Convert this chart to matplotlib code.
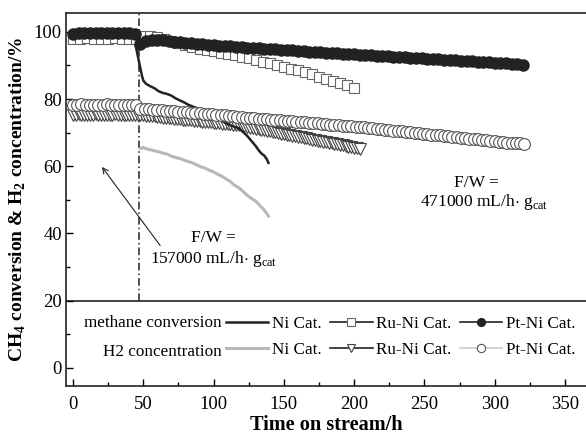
import numpy as np
import matplotlib
matplotlib.use("Agg")
from matplotlib import pyplot as plt

plt.rcParams["font.family"] = "Liberation Serif"
plt.rcParams["mathtext.fontset"] = "custom"
plt.rcParams["mathtext.rm"] = "Liberation Serif"
plt.rcParams["mathtext.bf"] = "Liberation Serif:bold"

SWITCH_T = 47   # F/W raised from 157000 to 471000 mL/h g_cat here

# methane conversion, Pt-Ni (sampled every 4 h)
pt_ch4_before = [99.4, 99.5, 99.5, 99.6, 99.5, 99.5, 99.6, 99.5, 99.5, 99.6, 99.5, 99.4]
pt_ch4_after = [96.5, 97.2, 97.5, 97.6, 97.5, 97.3, 97.1, 97.0, 96.8, 96.7, 96.5, 96.4,
                96.2, 96.1, 95.9, 95.8, 95.7, 95.5, 95.5, 95.3, 95.2, 95.1, 95.0, 94.9,
                94.8, 94.7, 94.6, 94.5, 94.3, 94.2, 94.1, 94.0, 93.9, 93.8, 93.7, 93.6,
                93.5, 93.4, 93.3, 93.2, 93.1, 93.0, 92.9, 92.8, 92.7, 92.6, 92.5, 92.4,
                92.3, 92.2, 92.1, 92.0, 91.9, 91.8, 91.7, 91.6, 91.5, 91.4, 91.3, 91.2,
                91.1, 91.0, 90.9, 90.8, 90.7, 90.6, 90.5, 90.4, 90.2]

# methane conversion, Ru-Ni (every 5 h)
ru_ch4_before = [98.0, 98.0, 98.1, 98.0, 98.0, 98.0, 98.1, 98.0, 98.0, 98.0]
ru_ch4_after = [98.9, 98.8, 98.5, 98.0, 97.3, 96.6, 96.0, 95.5, 95.0, 94.6, 94.2, 93.8,
                93.4, 93.0, 92.6, 92.1, 91.6, 91.1, 90.6, 90.1, 89.6, 89.0, 88.5, 87.9,
                87.3, 86.7, 86.1, 85.5, 84.9, 84.2, 83.2]

# methane conversion, Ni (line only)
ni_ch4_t = [0, 5, 10, 15, 20, 25, 30, 35, 40, 43, 45, 47, 49, 50, 52, 55, 58, 61, 64, 67,
            70, 73, 76, 79, 82, 85, 88, 91, 94, 97, 100, 103, 106, 109, 112, 115, 118,
            121, 124, 127, 130, 132, 134, 136, 138, 139]
ni_ch4 = [99.2, 99.2, 99.3, 99.2, 99.2, 99.3, 99.2, 99.2, 99.2, 98.5, 95.0, 91.0, 87.0,
          85.5, 84.5, 83.8, 83.2, 82.3, 81.8, 81.5, 81.0, 80.2, 79.6, 79.0, 78.3, 77.8,
          77.3, 76.5, 76.0, 75.3, 74.8, 74.2, 73.5, 72.8, 72.2, 71.7, 71.3, 70.2, 69.0,
          67.5, 66.0, 64.8, 63.8, 63.2, 62.0, 61.0]

# H2 concentration, Pt-Ni (every 3 h)
pt_h2_before = [78.3, 78.3, 78.4, 78.3, 78.3, 78.2, 78.3, 78.3, 78.4, 78.3, 78.3, 78.3,
                78.2, 78.3, 78.3, 78.3]
pt_h2_after = [77.0, 77.0, 76.9, 76.8, 76.7, 76.6, 76.5, 76.4, 76.3, 76.2, 76.1, 76.0,
               75.9, 75.8, 75.7, 75.6, 75.5, 75.4, 75.3, 75.2, 75.1, 75.0, 74.9, 74.7,
               74.6, 74.5, 74.4, 74.3, 74.2, 74.1, 74.0, 73.9, 73.8, 73.7, 73.6, 73.5,
               73.4, 73.3, 73.2, 73.1, 73.0, 72.9, 72.8, 72.7, 72.6, 72.4, 72.3, 72.2,
               72.1, 72.0, 71.9, 71.8, 71.7, 71.6, 71.4, 71.3, 71.2, 71.0, 70.9, 70.8,
               70.6, 70.5, 70.4, 70.2, 70.1, 70.0, 69.8, 69.7, 69.6, 69.4, 69.3, 69.2,
               69.0, 68.9, 68.8, 68.6, 68.5, 68.4, 68.2, 68.1, 68.0, 67.8, 67.7, 67.6,
               67.4, 67.3, 67.2, 67.0, 66.9, 66.9, 66.8, 66.7]

# H2 concentration, Ru-Ni (every 2 h)
ru_h2_before = [75.3, 75.3, 75.4, 75.3, 75.2, 75.3, 75.3, 75.3, 75.4, 75.3, 75.3, 75.2,
                75.3, 75.3, 75.3, 75.4, 75.3, 75.3, 75.2, 75.3, 75.3, 75.3, 75.3, 75.3]
ru_h2_after = [75.2, 75.1, 75.0, 74.9, 74.9, 74.8, 74.7, 74.6, 74.5, 74.4, 74.3, 74.3,
               74.2, 74.1, 74.0, 73.9, 73.8, 73.7, 73.7, 73.6, 73.5, 73.4, 73.3, 73.2,
               73.1, 73.1, 73.0, 72.9, 72.8, 72.7, 72.6, 72.5, 72.5, 72.4, 72.3, 72.2,
               72.0, 71.9, 71.7, 71.5, 71.4, 71.2, 71.0, 70.9, 70.7, 70.6, 70.4, 70.2,
               70.1, 69.9, 69.7, 69.6, 69.4, 69.2, 69.1, 68.9, 68.8, 68.6, 68.4, 68.3,
               68.1, 67.9, 67.8, 67.6, 67.5, 67.3, 67.1, 67.0, 66.8, 66.7, 66.5, 66.3,
               66.2, 66.0, 65.8, 65.7, 65.5, 65.4, 65.2]

# H2 concentration, Ni (line only, after the switch)
ni_h2_t = [48, 50, 52, 55, 58, 61, 64, 67, 70, 73, 76, 79, 82, 85, 88, 91, 94, 97, 100,
           103, 106, 109, 112, 115, 118, 121, 124, 127, 130, 133, 136, 139]
ni_h2 = [65.3, 65.6, 65.2, 64.9, 64.6, 64.3, 63.9, 63.6, 63.0, 62.6, 62.3, 61.8, 61.4,
         61.0, 60.4, 59.8, 59.4, 58.8, 58.3, 57.6, 57.0, 56.2, 55.4, 54.3, 53.6, 52.5,
         51.3, 50.4, 49.6, 48.3, 47.0, 45.2]


def two_stage(before, dt_before, after, t_after, dt_after):
    """times and values of the two F/W stages, split by a NaN so no line joins them."""
    t1 = dt_before * np.arange(len(before))
    t2 = t_after + dt_after * np.arange(len(after))
    t = np.concatenate([t1, [np.nan], t2])
    y = np.concatenate([before, [np.nan], after])
    return t, y


fig = plt.figure(figsize=(5.86, 4.34), dpi=100)
ax = fig.add_axes([66 / 586, 48 / 434, 520 / 586, 373 / 434])

dark = "#222222"

t, y = two_stage(ru_h2_before, 2, ru_h2_after, 48, 2)
ru_h2_line, = ax.plot(t, y, color=dark, lw=1.2, marker="v", ms=8, mfc="white",
                      mec="#444444", mew=0.8, zorder=2)
ni_ch4_line, = ax.plot(ni_ch4_t, ni_ch4, color=dark, lw=1.8, zorder=3)
ni_h2_line, = ax.plot(ni_h2_t, ni_h2, color="#b8b8b8", lw=2.2, zorder=3)
t, y = two_stage(pt_h2_before, 3, pt_h2_after, 48, 3)
pt_h2_line, = ax.plot(t, y, color="#cccccc", lw=1.2, marker="o", ms=8.5, mfc="white",
                      mec="#555555", mew=0.8, zorder=4)
t, y = two_stage(ru_ch4_before, 5, ru_ch4_after, 50, 5)
ru_ch4_line, = ax.plot(t, y, color=dark, lw=1.2, marker="s", ms=7.5, mfc="white",
                       mec="#666666", mew=0.8, zorder=4)
t, y = two_stage(pt_ch4_before, 4, pt_ch4_after, 48, 4)
pt_ch4_line, = ax.plot(t, y, color=dark, lw=1.2, marker="o", ms=8, mfc=dark,
                       mec=dark, zorder=5)

# stage switch and legend separator
ax.plot([SWITCH_T, SWITCH_T], [20, 106], color=dark, lw=1.1, ls=(0, (5, 2, 1, 2)), zorder=1)
ax.axhline(20, color=dark, lw=1.2, zorder=1)

ax.text(99.6, 38.6, "F/W =", ha="center", va="center", fontsize=12.5)
ax.text(100.0, 32.4, "157000 mL/h$\\cdot$ g$_{\\rm cat}$", ha="center", va="center",
        fontsize=12.5)
ax.annotate("", xy=(20.6, 59.8), xytext=(62.0, 36.4),
            arrowprops=dict(arrowstyle="->", lw=0.8, color=dark, shrinkA=0, shrinkB=0))
ax.text(287, 55.0, "F/W =", ha="center", va="center", fontsize=12.5)
ax.text(292.3, 49.3, "471000 mL/h$\\cdot$ g$_{\\rm cat}$", ha="center", va="center",
        fontsize=12.5)

ax.text(106, 13.4, "methane conversion", ha="right", va="center", fontsize=12.3)
ax.text(106, 4.8, "H2 concentration", ha="right", va="center", fontsize=12.3)
ax.legend([ni_ch4_line, ni_h2_line, ru_ch4_line, ru_h2_line, pt_ch4_line, pt_h2_line],
          ["Ni Cat.", "Ni Cat.", "Ru-Ni Cat.", "Ru-Ni Cat.", "Pt-Ni Cat.", "Pt-Ni Cat."],
          ncol=3, frameon=False, loc="center left", bbox_to_anchor=(108.5, 9.1),
          bbox_transform=ax.transData, borderpad=0, borderaxespad=0, handlelength=2.5,
          handletextpad=0.2, columnspacing=0.5, labelspacing=0.6, fontsize=12.3,
          markerscale=0.7)

ax.set_xlim(-5, 365)
ax.set_ylim(-5.4, 105.6)
ax.set_xticks(np.arange(0, 351, 50))
ax.set_xticks(np.arange(25, 351, 50), minor=True)
ax.set_yticks(np.arange(0, 101, 20))
ax.set_yticks(np.arange(10, 101, 20), minor=True)
ax.tick_params(which="both", direction="in", top=False, right=False, labelsize=13.4)
ax.tick_params(which="major", length=5, width=1)
ax.tick_params(which="minor", length=3, width=1)
ax.tick_params(axis="x", pad=7)
ax.tick_params(axis="y", pad=3)
for side in ["left", "bottom", "top"]:
    ax.spines[side].set_linewidth(1.2)
    ax.spines[side].set_color(dark)
ax.spines["right"].set_visible(False)

ax.set_xlabel("Time on stream/h", fontsize=14.6, fontweight="bold", labelpad=2)
ax.set_ylabel("CH$_\\mathbf{4}$ conversion & H$_\\mathbf{2}$ concentration/%",
              fontsize=14, fontweight="bold", labelpad=4)

fig.savefig("out.png", dpi=100)
